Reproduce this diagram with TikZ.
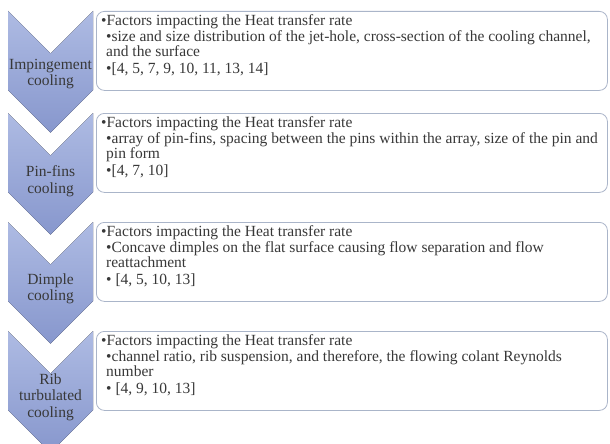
\documentclass[tikz,border=0pt]{standalone}
\usepackage{fontspec}
\setmainfont{Liberation Serif}
\definecolor{chevtop}{HTML}{AEBBE3}
\definecolor{chevbot}{HTML}{8797CD}
\definecolor{boxline}{HTML}{AAB5C9}
\definecolor{txt}{HTML}{383838}
\begin{document}
\begin{tikzpicture}[x=1pt,y=-1pt,
  chev/.style={top color=chevtop,bottom color=chevbot,draw=none},
  boxnode/.style={draw=boxline,line width=0.8pt,rounded corners=8pt,fill=white,
    minimum width=511pt,minimum height=79pt,inner sep=0pt,anchor=north west},
  lbl/.style={align=center,font=\fontsize{15.5}{16.5}\selectfont,text=txt,inner sep=0pt},
  body/.style={align=left,font=\fontsize{15.5}{15.5}\selectfont,text=txt,inner sep=0pt,anchor=north west}]
\useasboundingbox[fill=white] (0,0) rectangle (610,444);
\newcommand{\lvtwo}{\hspace*{5pt}}
% chevrons
\fill[chev] (8,11) -- (50.5,53.5) -- (93,11) -- (93,90) -- (50.5,132.5) -- (8,90) -- cycle;
\fill[chev] (8,113) -- (50.5,155.5) -- (93,113) -- (93,192) -- (50.5,234.5) -- (8,192) -- cycle;
\fill[chev] (8,222) -- (50.5,264.5) -- (93,222) -- (93,301) -- (50.5,343.5) -- (8,301) -- cycle;
\fill[chev] (8,331) -- (50.5,373.5) -- (93,331) -- (93,410) -- (50.5,452.5) -- (8,410) -- cycle;
\node[lbl] (c1) at (50.5,74) {Impingement\\cooling};
\node[lbl] (c2) at (50.5,181) {Pin-fins\\cooling};
\node[lbl] (c3) at (50.5,289) {Dimple\\cooling};
\node[lbl] (c4) at (50.5,397) {Rib\\turbulated\\cooling};
% boxes
\node[boxnode] (b1) at (96,11) {};
\node[boxnode] (b2) at (96,113) {};
\node[boxnode] (b3) at (96,222) {};
\node[boxnode] (b4) at (96,331) {};
% texts
\node[body] (t1) at (101,13.5) {\rule{0pt}{12pt}•Factors impacting the Heat transfer rate\\
\lvtwo•size and size distribution of the jet-hole, cross-section of the cooling channel,\\
\lvtwo and the surface\\[1.5pt]
\lvtwo•[4, 5, 7, 9, 10, 11, 13, 14]};
\node[body] (t2) at (101,115.5) {\rule{0pt}{12pt}•Factors impacting the Heat transfer rate\\
\lvtwo•array of pin-fins, spacing between the pins within the array, size of the pin and\\
\lvtwo pin form\\[1.5pt]
\lvtwo•[4, 7, 10]};
\node[body] (t3) at (101,224.5) {\rule{0pt}{12pt}•Factors impacting the Heat transfer rate\\
\lvtwo•Concave dimples on the flat surface causing flow separation and flow\\
\lvtwo reattachment\\[1.5pt]
\lvtwo• [4, 5, 10, 13]};
\node[body] (t4) at (101,333.5) {\rule{0pt}{12pt}•Factors impacting the Heat transfer rate\\
\lvtwo•channel ratio, rib suspension, and therefore, the flowing colant Reynolds\\
\lvtwo number\\[1.5pt]
\lvtwo• [4, 9, 10, 13]};
\end{tikzpicture}
\end{document}
